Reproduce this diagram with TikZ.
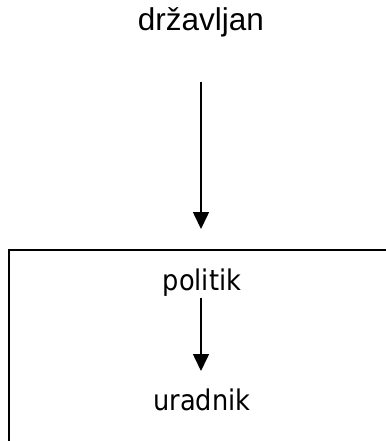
\documentclass[tikz,border=0pt]{standalone}
\usepackage{fontspec}
\setmainfont{Liberation Sans}
\newfontfamily\boxfont{DejaVu Sans Condensed}
\usetikzlibrary{arrows.meta}
\tikzset{
  lbl/.style={inner sep=0pt, anchor=center},
  flow/.style={line width=1.6pt, -{Triangle[length=17pt, width=16pt]}},
  frame/.style={line width=2.3pt}
}
\begin{document}
\begin{tikzpicture}[x=1pt, y=-1pt]
  \useasboundingbox (0,0) rectangle (385,441);
  % outer citizen
  \node[lbl, font=\fontsize{31.5}{36}\selectfont] (drz) at (201,22) {državljan};
  \coordinate (top) at (201,82);
  % enclosing frame, running past the page edges
  \draw[frame] (390,250) -- (9,250) -- (9,446);
  \coordinate (boxtop) at (201,229);
  \draw[flow] (top) -- (boxtop);
  % inside the frame
  \node[lbl, font=\boxfont\fontsize{28.5}{34}\selectfont] (pol) at (202,283) {politik};
  \node[lbl, font=\boxfont\fontsize{28.5}{34}\selectfont] (ura) at (202,400) {uradnik};
  \coordinate (p1) at (201,298);
  \coordinate (p2) at (201,371);
  \draw[flow] (p1) -- (p2);
\end{tikzpicture}
\end{document}
